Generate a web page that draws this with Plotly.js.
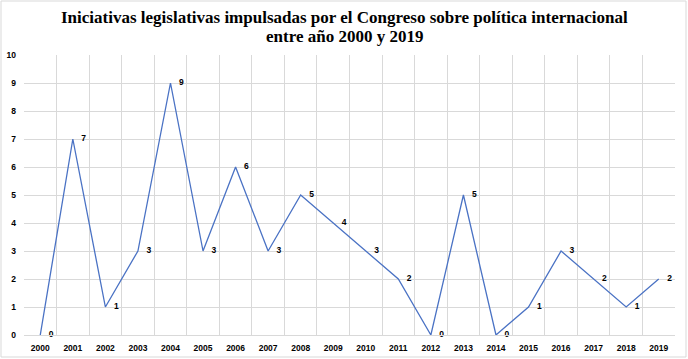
<!DOCTYPE html>
<html><head><meta charset="utf-8">
<script src="https://cdn.plot.ly/plotly-3.0.1.min.js"></script>
<style>html,body{margin:0;padding:0;background:#fff}#c{width:688px;height:359px}</style>
</head><body><div id="c"></div>
<script>
const years = ['2000','2001','2002','2003','2004','2005','2006','2007','2008','2009','2010','2011','2012','2013','2014','2015','2016','2017','2018','2019'];
const iniciativas = [0,7,1,3,9,3,6,3,5,4,3,2,0,5,0,1,3,2,1,2];
const yTicks = [0,1,2,3,4,5,6,7,8,9,10];
const titleLines = ['Iniciativas legislativas impulsadas por el Congreso sobre política internacional', 'entre año 2000 y 2019'];

const trace = {
  x: years, y: iniciativas, type: 'scatter', mode: 'lines+markers+text',
  line: {color: '#4a72c4', width: 1.3},
  marker: {size: 12, color: 'rgba(0,0,0,0)'},
  text: iniciativas.map(String), textposition: 'middle right',
  textfont: {family: 'Liberation Sans, Arial, sans-serif', size: 8.5, color: '#000', weight: 'bold'},
  cliponaxis: false, hoverinfo: 'none'
};
const W=651, H=280;
const titleFont = {family: 'Liberation Serif, Times New Roman, serif', size: 17, color: '#000', weight: 'bold'};
const tickFont = {family: 'Liberation Sans, Arial, sans-serif', size: 8.5, color: '#000', weight: 'bold'};
const layout = {
  width: 688, height: 359,
  margin: {l: 24, r: 13, t: 55, b: 24},
  paper_bgcolor: '#fff', plot_bgcolor: '#fff',
  showlegend: false,
  annotations: [
    {text: titleLines[0], xref: 'paper', yref: 'paper', x: (344-24)/W, y: (335-17)/H, xanchor: 'center', yanchor: 'middle', showarrow: false, font: titleFont},
    {text: titleLines[1], xref: 'paper', yref: 'paper', x: (344-24)/W, y: (335-36)/H, xanchor: 'center', yanchor: 'middle', showarrow: false, font: titleFont}
  ],
  xaxis: {type: 'category', tickson: 'boundaries', showgrid: true, gridcolor: '#d9d9d9', gridwidth: 1,
    showline: true, linecolor: '#d9d9d9', ticks: '', zeroline: false, ticklabelstandoff: 5,
    tickfont: tickFont, range: [-0.5, 19.5], fixedrange: true},
  yaxis: {range: [0, 10], tickvals: yTicks, ticktext: yTicks.map(String), showgrid: true, gridcolor: '#d9d9d9',
    zeroline: false, showline: false, ticks: '', ticklabelstandoff: 7,
    tickfont: tickFont, fixedrange: true},
  shapes: [{type: 'rect', xref: 'paper', yref: 'paper',
    x0: (1-24)/W, x1: (686-24)/W, y0: (335-357)/H, y1: (335-1)/H,
    line: {color: '#d9d9d9', width: 1}, fillcolor: 'rgba(0,0,0,0)'}]
};
Plotly.newPlot('c', [trace], layout, {displayModeBar: false, staticPlot: true});
</script></body></html>
